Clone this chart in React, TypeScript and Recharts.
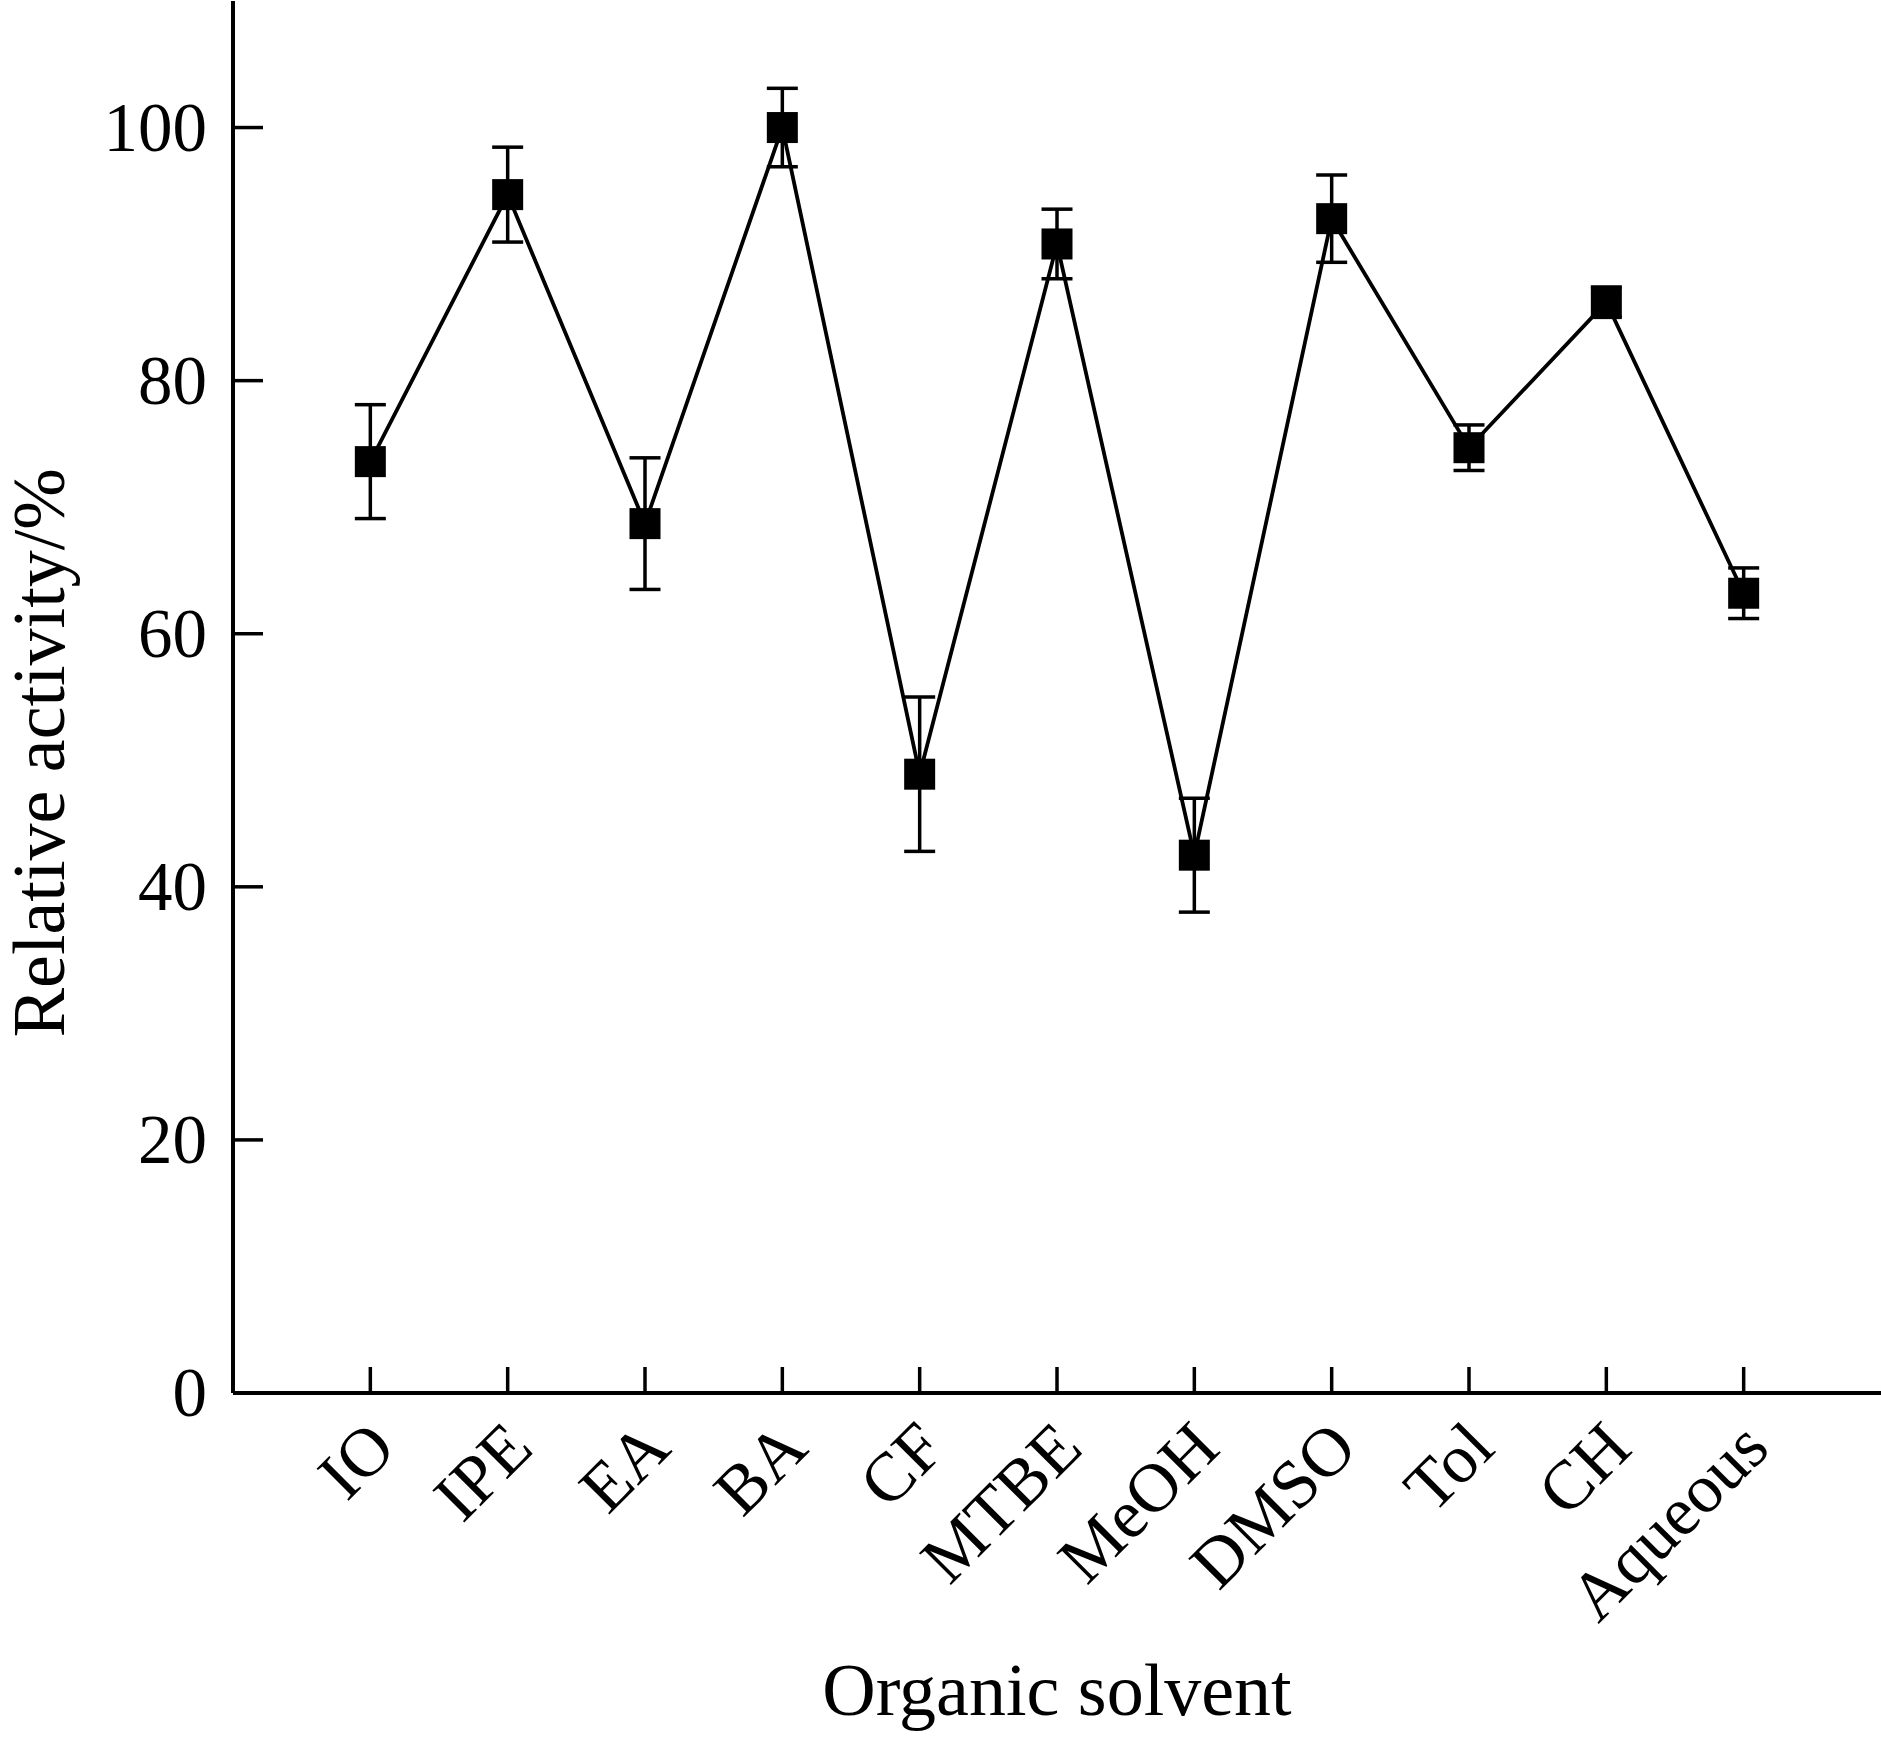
import { LineChart, Line, XAxis, YAxis, ErrorBar } from 'recharts';

const solvents = ['IO', 'IPE', 'EA', 'BA', 'CF', 'MTBE', 'MeOH', 'DMSO', 'Tol', 'CH', 'Aqueous'];
const activity = [73.6, 94.7, 68.7, 100.0, 48.9, 90.8, 42.5, 92.8, 74.7, 86.2, 63.2];
const errors = [4.5, 3.75, 5.2, 3.1, 6.1, 2.75, 4.5, 3.45, 1.8, 1.2, 2.0];
const yTicks = [0, 20, 40, 60, 80, 100];
const xTicks = solvents.map((_, i) => i + 1);

const data = solvents.map((name, i) => ({
    pos: i + 1,
    name,
    activity: activity[i],
    err: errors[i],
}));

const FONT = '"Liberation Serif", "Times New Roman", serif';

// ticks point inward, so draw line + label ourselves
const XTick = (props: any) => {
    const { x, y, payload } = props;
    const ax = x + 28;
    const ay = y + 58;
    return (
        <g>
            <line x1={x} y1={y} x2={x} y2={y - 26} stroke="#000" strokeWidth={3.5} />
            <text
                x={ax}
                y={ay}
                textAnchor="end"
                transform={`rotate(-45 ${ax} ${ay})`}
                fontSize={69}
                fontFamily={FONT}
                fill="#000"
            >
                {solvents[payload.value - 1]}
            </text>
        </g>
    );
};

const YTick = (props: any) => {
    const { x, y, payload } = props;
    return (
        <g>
            <line x1={x} y1={y} x2={x + 30} y2={y} stroke="#000" strokeWidth={3.5} />
            <text x={x - 26} y={y + 23} textAnchor="end" fontSize={69} fontFamily={FONT} fill="#000">
                {payload.value}
            </text>
        </g>
    );
};

const SquareDot = (props: any) => {
    const { cx, cy } = props;
    if (cx == null || cy == null) return null;
    return <rect x={cx - 15.5} y={cy - 15.5} width={31} height={31} fill="#000" />;
};

export default function App() {
    return (
        <div style={{ width: 1881, height: 1738, background: '#fff' }}>
            <style>{'body{margin:0;background:#fff}'}</style>
            <LineChart width={1881} height={1738} data={data} margin={{ top: 1, right: 0, left: 0, bottom: 0 }}>
                <XAxis
                    type="number"
                    dataKey="pos"
                    domain={[0, 12]}
                    ticks={xTicks}
                    interval={0}
                    height={345}
                    tickSize={0}
                    tickMargin={0}
                    tickLine={false}
                    tick={<XTick />}
                    axisLine={{ stroke: '#000', strokeWidth: 4 }}
                    label={{
                        content: ({ viewBox }: any) => (
                            <text
                                x={viewBox.x + viewBox.width / 2}
                                y={viewBox.y + viewBox.height - 23}
                                textAnchor="middle"
                                fontSize={74}
                                fontFamily={FONT}
                                fill="#000"
                            >
                                Organic solvent
                            </text>
                        ),
                    }}
                />
                <YAxis
                    type="number"
                    domain={[0, 110]}
                    ticks={yTicks}
                    interval={0}
                    width={233}
                    tickSize={0}
                    tickMargin={0}
                    tickLine={false}
                    tick={<YTick />}
                    axisLine={{ stroke: '#000', strokeWidth: 4 }}
                    label={{
                        content: ({ viewBox }: any) => {
                            const lx = viewBox.x + 64;
                            const ly = viewBox.y + viewBox.height * 0.54;
                            return (
                                <text
                                    x={lx}
                                    y={ly}
                                    textAnchor="middle"
                                    transform={`rotate(-90 ${lx} ${ly})`}
                                    fontSize={74}
                                    fontFamily={FONT}
                                    fill="#000"
                                >
                                    Relative activity/%
                                </text>
                            );
                        },
                    }}
                />
                <Line
                    type="linear"
                    dataKey="activity"
                    stroke="#000"
                    strokeWidth={3.8}
                    dot={<SquareDot />}
                    activeDot={false}
                    isAnimationActive={false}
                >
                    <ErrorBar dataKey="err" direction="y" width={15.5} stroke="#000" strokeWidth={3.5} isAnimationActive={false} />
                </Line>
            </LineChart>
        </div>
    );
}
